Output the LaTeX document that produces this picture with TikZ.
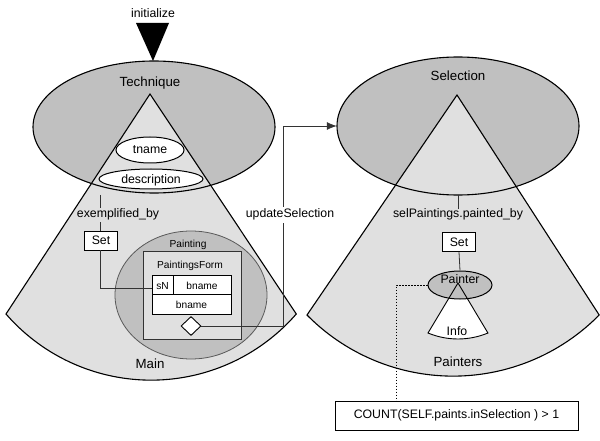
\documentclass[tikz,border=0pt]{standalone}
\usepackage{fontspec}
\setmainfont{Liberation Sans}
\usetikzlibrary{shapes.geometric,arrows.meta}
\definecolor{darkg}{RGB}{192,192,192}
\definecolor{lightg}{RGB}{224,224,224}
\tikzset{
  big/.style={font=\fontsize{13.3}{15}\selectfont, inner sep=0pt, anchor=base},
  mid/.style={font=\fontsize{12.3}{14}\selectfont, inner sep=0pt, anchor=base},
  small/.style={font=\fontsize{10.2}{12}\selectfont, inner sep=0pt, anchor=base},
  outl/.style={draw=black, line width=1.1pt},
  conn/.style={draw=black!80, line width=0.8pt},
  setbox/.style={draw=black, line width=0.8pt, fill=white, inner sep=0pt, minimum width=33pt, minimum height=19pt, font=\fontsize{12.3}{14}\selectfont},
  attr/.style={ellipse, draw=black, line width=1pt, fill=white, inner sep=0pt},
}
\begin{document}
\begin{tikzpicture}[x=1pt,y=1pt]
\useasboundingbox (0,0) rectangle (600,-441);
\fill[white] (0,0) rectangle (600,-441);

% ---------- Left: Technique / Main ----------
\node[ellipse, fill=darkg, minimum width=242pt, minimum height=132pt, inner sep=0pt] (tech) at (154,-127) {};
\fill[lightg] (150,-94) -- (6,-314) arc[start angle=221, end angle=319, radius=192.3] -- cycle;
\draw[outl] (tech.center) ellipse (121 and 66);
\draw[outl, line join=miter] (150,-94) -- (6,-314) arc[start angle=221, end angle=319, radius=192.3] -- cycle;
\node[big] (techlbl) at (150,-87) {Technique};
\node[big] (mainlbl) at (150,-368) {Main};

% initialize marker
\node[mid] (initlbl) at (153,-17.5) {initialize};
\fill[black] (136,-23) -- (169,-23) -- (153,-61) -- cycle;

\node[attr, minimum width=68pt, minimum height=26pt] (tname) at (150,-150) {};
\node[mid] at (150,-154) {tname};
\node[attr, minimum width=104pt, minimum height=20pt] (descr) at (151,-179) {};
\node[mid] at (151,-184) {description};

% Painting ellipse and form
\node[ellipse, draw=black!65, line width=0.8pt, fill=darkg, minimum width=152pt, minimum height=128pt, inner sep=0pt] (painting) at (191,-295) {};
\node[small] (paintlbl) at (188,-247) {Painting};
\draw[draw=black!80, line width=1pt, fill=lightg] (143,-251) rectangle (241,-339);
\node[small] (pformlbl) at (190,-268) {PaintingsForm};
\draw[draw=black, line width=0.9pt, fill=white] (152,-275) rectangle (231,-314);
\draw[draw=black, line width=0.9pt] (152,-294) -- (231,-294);
\draw[draw=black, line width=0.9pt] (173,-275) -- (173,-294);
\coordinate (sN) at (152,-288);
\node[small] at (162.5,-289) {sN};
\node[small] at (202,-289) {bname};
\node[small] at (191.5,-308) {bname};
\node[diamond, draw=black, line width=0.9pt, fill=white, inner sep=0pt, minimum width=20pt, minimum height=19pt] (dia) at (191,-326) {};

% exemplified_by connector
\node[setbox] (set1) at (101,-240.5) {Set};
\coordinate (ex1) at (100,-195);
\draw[conn] (ex1) -- (ex1 |- set1.north);
\node[mid, fill=lightg, inner ysep=1pt] (exlbl) at (118,-218) {exemplified\_by};
\draw[conn] (set1.south -| ex1) |- (sN);

% ---------- Right: Selection / Painters ----------
\node[ellipse, fill=darkg, minimum width=242pt, minimum height=138pt, inner sep=0pt] (sel) at (458,-126) {};
\fill[lightg] (457,-95) -- (307,-315) arc[start angle=224.6, end angle=315.4, radius=205.2] -- cycle;
\draw[outl] (sel.center) ellipse (121 and 69);
\draw[outl, line join=miter] (457,-95) -- (307,-315) arc[start angle=224.6, end angle=315.4, radius=205.2] -- cycle;
\node[big] (sellbl) at (458,-81) {Selection};
\node[big] (painterslbl) at (458,-366) {Painters};

\coordinate (ex2) at (458,-195);
\node[mid] (sellbl2) at (458,-218) {selPaintings.painted\_by};
\draw[conn] (ex2) -- (sellbl2.north -| ex2);
\node[setbox] (set2) at (459,-242) {Set};

% Info wedge and Painter ellipse
\fill[white] (458,-283) -- (428,-333) arc[start angle=247.4, end angle=292.6, radius=78] -- cycle;
\node[ellipse, draw=black, line width=1pt, fill=darkg, minimum width=64pt, minimum height=28pt, inner sep=0pt] (painter) at (460,-285) {};
\draw[draw=black, line width=0.9pt, line join=miter] (458,-283) -- (428,-333) arc[start angle=247.4, end angle=292.6, radius=78] -- cycle;
\node[mid] (painterlbl) at (460,-283) {Painter};
\node[mid] (infolbl) at (457,-335) {Info};
\draw[conn] (set2.south) -- (painter.north);

% OCL constraint
\node[draw=black, line width=1pt, fill=white, minimum width=243pt, minimum height=29pt, inner sep=0pt, font=\fontsize{12.3}{14}\selectfont] (count) at (456.5,-415.5) {COUNT(SELF.paints.inSelection ) > 1};
\coordinate (dd) at (396,-401);
\draw[black, line width=0.8pt, dash pattern=on 1.5pt off 1.5pt] (painter.west) -| (dd);

% updateSelection connector
\draw[conn, -{Latex[length=10pt,width=8pt]}] (dia.east) -- (283,-326) |- (sel.west);
\node[mid, fill=white, inner ysep=2pt] (updlbl) at (290,-218) {updateSelection};
\end{tikzpicture}
\end{document}
